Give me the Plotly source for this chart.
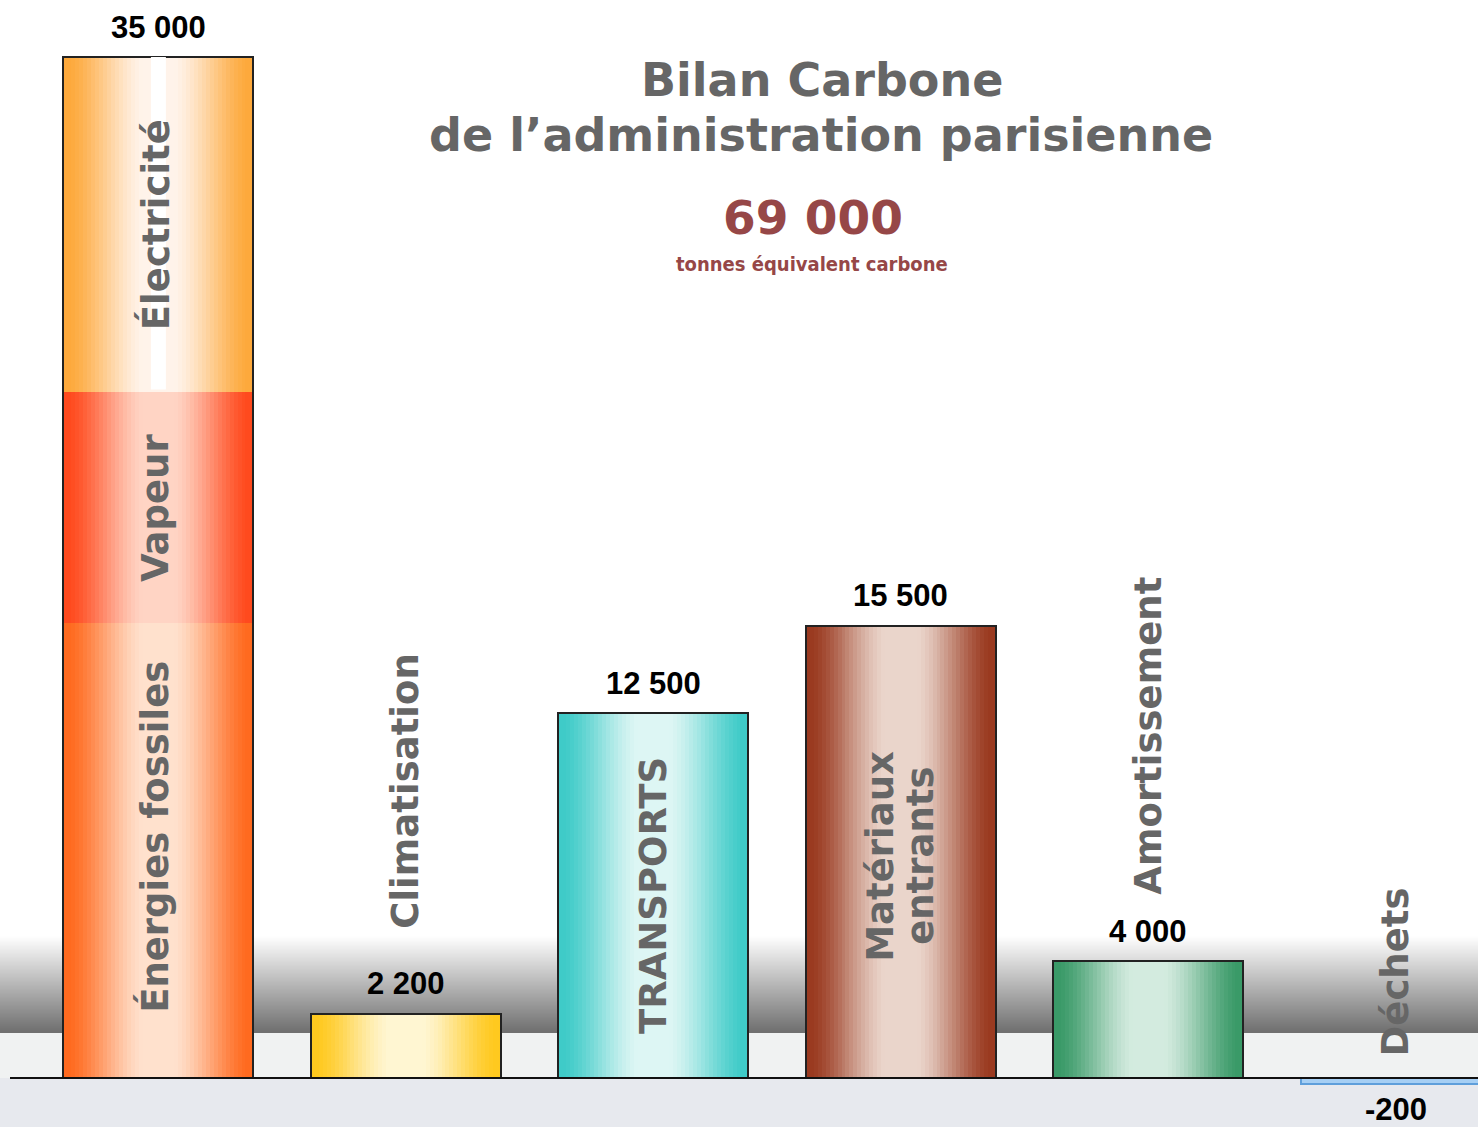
import plotly.graph_objects as go

# ---------------- data ----------------
categories = ["Énergie", "Climatisation", "TRANSPORTS", "Matériaux entrants", "Amortissement", "Déchets"]
energy_parts = ["Énergies fossiles", "Vapeur", "Électricité"]
energy_values = [15600, 7900, 11500]
other_values = [2200, 12500, 15500, 4000, -200]
title_lines = ["Bilan Carbone", "de l’administration parisienne"]
total_label = "69 000"
unit_label = "tonnes équivalent carbone"

# ---------------- styles ----------------
W_PX, H_PX = 1478, 1127
X_ORIGIN_PX, X_STEP_PX = 158.4, 247.5
BAR_W = 190 / X_STEP_PX
N_STRIPS = 48
energy_edge = ["#FF6A1F", "#FF4A1E", "#FDA93C"]
energy_center = ["#FFE1CD", "#FFD4C4", "#FFF3EA"]
other_edge = ["#FFC91F", "#3FCBC8", "#9A3A20", "#3A9A68", "#A6CFF4"]
other_center = ["#FFF6D2", "#DDF6F4", "#EAD5CB", "#D3EBDF", "#A6CFF4"]
outline_col = ["#222222"] * 5 + ["#5F9FDB"]
label_grey = "#666666"
value_font = dict(family="Liberation Sans, Arial, sans-serif", size=31, color="black", weight="bold")
cat_font = dict(family="DejaVu Sans, Verdana, sans-serif", size=37, color=label_grey, weight="bold")


def hex2rgb(h):
    h = h.lstrip("#")
    return [int(h[i:i + 2], 16) for i in (0, 2, 4)]


def mix(c1, c2, f):
    a, b = hex2rgb(c1), hex2rgb(c2)
    return "rgb(%d,%d,%d)" % tuple(round(a[i] + (b[i] - a[i]) * f) for i in range(3))


def profile(t):
    d = abs(t - 0.5) * 2
    f = (d - 0.18) / (0.93 - 0.18)
    f = min(max(f, 0.0), 1.0)
    return f * f * (3 - 2 * f) * 0.5 + f * 0.5


# segments built from data
seg_x, seg_base, seg_val, seg_edge, seg_center = [], [], [], [], []
cum = 0
for v, e, c in zip(energy_values, energy_edge, energy_center):
    seg_x.append(0); seg_base.append(cum); seg_val.append(v); seg_edge.append(e); seg_center.append(c)
    cum += v
for i, (v, e, c) in enumerate(zip(other_values, other_edge, other_center)):
    seg_x.append(i + 1); seg_base.append(0); seg_val.append(v); seg_edge.append(e); seg_center.append(c)

totals = [sum(energy_values)] + other_values
xs = list(range(len(categories)))

fig = go.Figure()

# gradient bars as thin strips
for k in range(N_STRIPS):
    t = (k + 0.5) / N_STRIPS
    f = profile(t)
    cols = [mix(c, e, f) for e, c in zip(seg_edge, seg_center)]
    fig.add_trace(go.Bar(
        x=seg_x, y=seg_val, base=seg_base,
        width=BAR_W / N_STRIPS, offset=-BAR_W / 2 + k * BAR_W / N_STRIPS,
        marker=dict(color=cols, line=dict(width=0)),
        hoverinfo="skip", showlegend=False))

# outline of each bar
fig.add_trace(go.Bar(
    x=xs, y=totals, width=BAR_W,
    marker=dict(color="rgba(0,0,0,0)", line=dict(color=outline_col, width=2)),
    hoverinfo="skip", showlegend=False))

annotations = []


def fmt(v):
    return f"{v:,}".replace(",", " ")


# value labels
for x, v in zip(xs, totals):
    annotations.append(dict(x=x, y=v, xref="x", yref="y", text=fmt(v), showarrow=False,
                            xanchor="center", yanchor="middle",
                            yshift=30 if v >= 0 else -26, font=value_font))

# energy part labels (inside segments)
cum = 0
part_shift = [14, 0, 0]
for name, v, s in zip(energy_parts, energy_values, part_shift):
    annotations.append(dict(x=0, y=cum + v / 2, xref="x", yref="y", text=name, textangle=-90,
                            showarrow=False, xanchor="center", yanchor="middle",
                            xshift=-3, yshift=s, font=cat_font))
    cum += v

# other category labels
for i, (name, v) in enumerate(zip(categories[1:], other_values), start=1):
    if name == "TRANSPORTS":
        annotations.append(dict(x=i, y=v / 2, xref="x", yref="y", text=name, textangle=-90,
                                showarrow=False, xanchor="center", yanchor="middle", font=cat_font))
    elif name == "Matériaux entrants":
        words = name.split(" ")
        for j, w in enumerate(words):
            annotations.append(dict(x=i, y=v / 2, xref="x", yref="y", text=w, textangle=-90,
                                    showarrow=False, xanchor="center", yanchor="middle",
                                    xshift=-20 + 40 * j, yshift=-4, font=cat_font))
    elif v < 0:
        annotations.append(dict(x=i, y=0, xref="x", yref="y", text=name, textangle=-90,
                                showarrow=False, xanchor="center", yanchor="bottom",
                                yshift=20, font=cat_font))
    else:
        shift = 87 if name == "Climatisation" else 69
        annotations.append(dict(x=i, y=v, xref="x", yref="y", text=name, textangle=-90,
                                showarrow=False, xanchor="center", yanchor="bottom",
                                yshift=shift - 4, font=cat_font))


def px(p):
    return p / W_PX


def py(p):
    return 1 - p / H_PX


title_font = dict(family="DejaVu Sans, Verdana, sans-serif", size=46, color=label_grey, weight="bold")
annotations.append(dict(x=px(822), y=py(80), xref="paper", yref="paper", text=title_lines[0],
                        xanchor="center", yanchor="middle", showarrow=False, font=title_font))
annotations.append(dict(x=px(821), y=py(135), xref="paper", yref="paper", text=title_lines[1],
                        xanchor="center", yanchor="middle", showarrow=False, font=title_font))
annotations.append(dict(x=px(813), y=py(217), xref="paper", yref="paper", text=total_label,
                        xanchor="center", yanchor="middle", showarrow=False,
                        font=dict(family="DejaVu Sans, Verdana, sans-serif", size=47,
                                  color="#964747", weight="bold")))
annotations.append(dict(x=px(812), y=py(264), xref="paper", yref="paper", text=unit_label,
                        xanchor="center", yanchor="middle", showarrow=False,
                        font=dict(family="DejaVu Sans Condensed, DejaVu Sans, sans-serif", size=20,
                                  color="#964747", weight="bold")))

# background shapes
shapes = []
g0, g1 = 937, 1033
n_band = 48
for k in range(n_band):
    a = g0 + (g1 - g0) * k / n_band
    b = g0 + (g1 - g0) * (k + 1) / n_band
    shapes.append(dict(type="rect", xref="paper", yref="paper", x0=0, x1=1, y0=py(b), y1=py(a) + 0.0005,
                       fillcolor=mix("#FFFFFF", "#6E6E6E", (k + 0.5) / n_band), line=dict(width=0),
                       layer="below"))
shapes.append(dict(type="rect", xref="paper", yref="paper", x0=0, x1=1, y0=py(1078), y1=py(1033),
                   fillcolor="#F0F2F2", line=dict(width=0), layer="below"))
shapes.append(dict(type="rect", xref="paper", yref="paper", x0=0, x1=1, y0=0, y1=py(1078),
                   fillcolor="#E7E9EE", line=dict(width=0), layer="below"))
# white highlight stripe behind the "Électricité" label
elec_base = energy_values[0] + energy_values[1]
shapes.append(dict(type="rect", xref="x", yref="y", x0=-7.5 / X_STEP_PX, x1=7.5 / X_STEP_PX,
                   y0=elec_base + 100, y1=elec_base + energy_values[2],
                   fillcolor="white", line=dict(width=0), layer="above"))
# baseline
shapes.append(dict(type="line", xref="paper", yref="y", x0=px(10), x1=1, y0=0, y1=0,
                   line=dict(color="#111111", width=2)))

x0 = (0 - X_ORIGIN_PX) / X_STEP_PX
x1 = (W_PX - X_ORIGIN_PX) / X_STEP_PX
y_top = 1078 / 29.171 * 1000
y_bot = -(H_PX - 1078) / 29.171 * 1000

fig.update_layout(
    width=W_PX, height=H_PX,
    margin=dict(l=0, r=0, t=0, b=0),
    paper_bgcolor="white", plot_bgcolor="rgba(0,0,0,0)",
    barmode="overlay", bargap=0,
    xaxis=dict(range=[x0, x1], visible=False, fixedrange=True),
    yaxis=dict(range=[y_bot, y_top], visible=False, fixedrange=True),
    annotations=annotations, shapes=shapes,
    showlegend=False,
)

fig.write_html("out.html", config={"displayModeBar": False},
               post_script="document.body.style.margin='0';document.body.style.overflow='hidden';")
